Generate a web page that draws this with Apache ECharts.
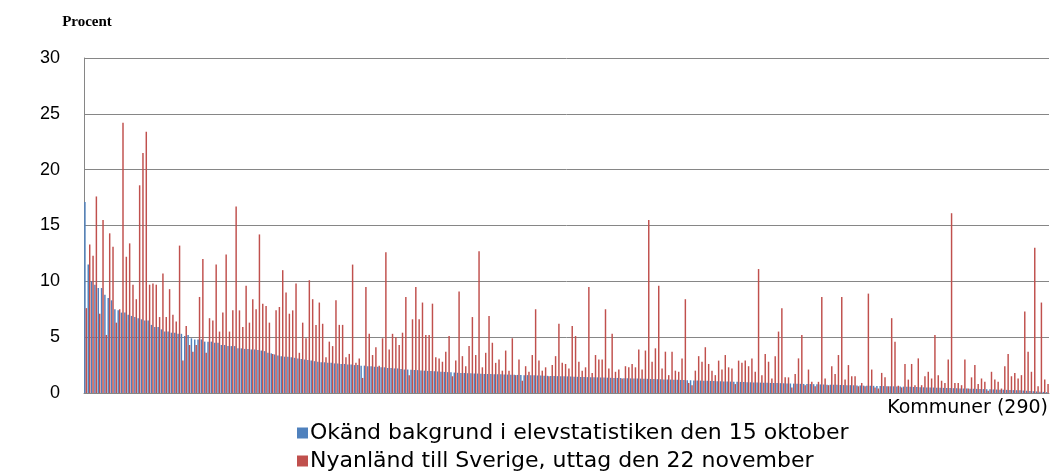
<!DOCTYPE html>
<html>
<head>
<meta charset="utf-8">
<script src="https://cdn.jsdelivr.net/npm/echarts@6/dist/echarts.min.js"></script>
<style>
  html, body { margin: 0; padding: 0; background: #fff; }
  #chart { width: 1052px; height: 475px; }
</style>
</head>
<body>
<div id="chart"></div>
<script>
// Okänd bakgrund (blå), sorterad fallande
const unknownBg = [
  17.1, 11.5, 10.0, 9.7, 9.4, 9.4, 8.8, 8.5, 8.3, 7.5, 7.4, 7.2, 7.2, 7.0, 6.9, 6.8, 6.7, 6.6, 6.5, 6.5, 6.1, 5.9, 5.9, 5.7,
  5.5, 5.5, 5.4, 5.4, 5.3, 5.3, 5.1, 5.2, 4.9, 4.8, 4.8, 4.8, 4.6, 4.6, 4.6, 4.5, 4.5, 4.3, 4.3, 4.2, 4.2, 4.2, 4.0, 4.0,
  3.95, 3.95, 3.9, 3.9, 3.85, 3.8, 3.75, 3.6, 3.55, 3.45, 3.35, 3.3, 3.25, 3.25, 3.2, 3.15, 3.1, 3.05, 3.0, 2.95, 2.9, 2.85, 2.8, 2.75, 2.75,
  2.7, 2.7, 2.65, 2.65, 2.6, 2.6, 2.55, 2.55, 2.5, 2.5, 2.45, 2.45, 2.4, 2.4, 2.35, 2.35, 2.3, 2.3, 2.25, 2.25, 2.2, 2.2, 2.15, 2.1,
  2.1, 2.08, 2.06, 2.05, 2.02, 2.0, 1.98, 1.97, 1.95, 1.93, 1.9, 1.89, 1.87, 1.85, 1.83, 1.81, 1.8, 1.79, 1.77, 1.76, 1.75, 1.74, 1.72, 1.71,
  1.7, 1.7, 1.69, 1.68, 1.67, 1.66, 1.65, 1.64, 1.63, 1.62, 1.61, 1.6, 1.6, 1.59, 1.58, 1.57, 1.56, 1.55, 1.54, 1.53, 1.52, 1.51, 1.5, 1.5, 1.49,
  1.47, 1.46, 1.45, 1.44, 1.43, 1.42, 1.41, 1.4, 1.4, 1.39, 1.38, 1.37, 1.36, 1.35, 1.35, 1.34, 1.33, 1.32, 1.31, 1.3, 1.3, 1.29, 1.28, 1.27,
  1.26, 1.25, 1.24, 1.23, 1.22, 1.21, 1.2, 1.19, 1.18, 1.17, 1.16, 1.15, 1.14, 1.13, 1.12, 1.11, 1.1, 1.09, 1.08, 1.07, 1.06, 1.05, 1.04, 1.03,
  1.02, 1.01, 1.0, 0.99, 0.98, 0.97, 0.96, 0.95, 0.94, 0.93, 0.92, 0.91, 0.9, 0.9, 0.89, 0.88, 0.87, 0.86, 0.85, 0.84, 0.83, 0.82, 0.81, 0.8, 0.8,
  0.79, 0.78, 0.77, 0.76, 0.75, 0.74, 0.74, 0.73, 0.72, 0.71, 0.7, 0.7, 0.69, 0.68, 0.67, 0.66, 0.66, 0.65, 0.64, 0.63, 0.62, 0.62, 0.61, 0.6, 0.6,
  0.59, 0.58, 0.57, 0.56, 0.55, 0.54, 0.53, 0.52, 0.51, 0.5, 0.5, 0.49, 0.48, 0.47, 0.46, 0.45, 0.44, 0.43, 0.42, 0.41, 0.4, 0.4, 0.39, 0.38,
  0.37, 0.36, 0.35, 0.34, 0.33, 0.32, 0.31, 0.3, 0.29, 0.28, 0.27, 0.26, 0.25, 0.24, 0.22, 0.2, 0.18, 0.16, 0.14, 0.12, 0.1, 0.08
];

// Nyanländ till Sverige (röd), samma kommunordning
const newArrivals = [
  7.6, 13.3, 12.3, 17.6, 7.1, 15.5, 5.2, 14.3, 13.1, 6.3, 7.5, 24.2, 12.2, 13.4, 9.7, 8.4, 18.6, 21.5, 23.4, 9.7, 9.8, 9.7, 6.8, 10.7,
  6.8, 9.3, 7.0, 6.4, 13.2, 2.9, 6.0, 4.3, 3.7, 4.3, 8.6, 12.0, 3.6, 6.7, 6.5, 11.5, 5.5, 7.2, 12.4, 5.5, 7.4, 16.7, 7.4, 5.9,
  9.6, 6.3, 8.4, 7.5, 14.2, 8.0, 7.8, 6.3, 3.5, 7.4, 7.7, 11.0, 9.0, 7.1, 7.4, 9.8, 3.6, 6.3, 4.9, 10.1, 8.4, 6.1, 8.1, 6.2, 3.2,
  4.6, 4.2, 8.3, 6.1, 6.1, 3.2, 3.5, 11.5, 2.7, 3.1, 1.35, 9.5, 5.3, 3.4, 4.1, 2.45, 4.9, 12.6, 3.9, 5.3, 5.0, 4.3, 5.4, 8.6,
  1.6, 6.6, 9.5, 6.6, 8.1, 5.2, 5.2, 8.0, 3.2, 3.1, 2.8, 3.7, 5.1, 1.5, 2.9, 9.1, 3.3, 2.4, 4.2, 6.8, 3.4, 12.7, 2.3, 3.6,
  6.9, 4.5, 2.7, 3.0, 2.0, 3.8, 2.0, 4.9, 1.6, 3.0, 1.1, 2.4, 1.9, 3.4, 7.5, 2.9, 2.0, 2.3, 1.5, 2.5, 3.3, 6.2, 2.7, 2.6, 2.2,
  6.0, 5.1, 2.8, 2.0, 2.3, 9.5, 1.8, 3.4, 3.0, 3.0, 7.5, 2.2, 5.3, 1.9, 2.1, 1.3, 2.4, 2.3, 2.6, 2.3, 3.9, 2.1, 3.8, 15.5,
  2.8, 4.0, 9.6, 2.2, 3.7, 1.6, 3.7, 2.0, 1.9, 3.1, 8.4, 0.9, 0.7, 2.0, 3.3, 2.8, 4.1, 2.6, 2.0, 1.6, 2.9, 2.1, 3.4, 2.3,
  2.2, 0.8, 2.9, 2.7, 2.9, 2.4, 3.1, 1.9, 11.1, 1.6, 3.5, 2.8, 1.3, 3.3, 5.5, 7.6, 1.4, 1.4, 0.5, 1.7, 3.1, 5.2, 0.7, 2.1, 1.0,
  0.6, 1.0, 8.6, 1.3, 0.7, 2.4, 1.7, 3.4, 8.6, 1.2, 2.5, 1.5, 1.5, 0.6, 0.9, 0.6, 8.9, 2.1, 0.5, 0.4, 1.8, 1.4, 0.6, 6.7, 4.6,
  0.65, 0.5, 2.6, 1.2, 2.6, 0.7, 3.1, 0.7, 1.5, 1.9, 1.3, 5.2, 1.6, 1.1, 0.9, 3.0, 16.1, 0.9, 0.9, 0.7, 3.0, 0.4, 1.4, 2.5,
  0.8, 1.3, 1.0, 0.2, 1.9, 1.2, 1.0, 0.4, 2.4, 3.5, 1.5, 1.8, 1.3, 1.6, 7.3, 3.7, 1.9, 13.0, 0.6, 8.1, 1.2, 0.8
];

const seriesNames = [
  "Okänd bakgrund i elevstatistiken den 15 oktober",
  "Nyanländ till Sverige, uttag den 22 november"
];
const yTicks = [0, 5, 10, 15, 20, 25, 30];
const kommuner = unknownBg.map((v, i) => "Kommun " + (i + 1));

const chart = echarts.init(document.getElementById("chart"));
const sans = "'Liberation Sans', Arial, sans-serif";
const wide = "'DejaVu Sans', 'Open Sans', sans-serif";

chart.setOption({
  animation: false,
  grid: {
    left: 84,
    right: 3,
    top: 58,
    bottom: 82,
  },
  legend: {
    orient: "vertical",
    left: 297,
    top: 422,
    height: 70,
    padding: 0,
    itemWidth: 11,
    itemHeight: 11,
    itemGap: 6,
    icon: "rect",
    textStyle: {
      fontFamily: wide,
      fontSize: 22,
      color: "#000",
      padding: [0, 0, 0, -3],
    },
    data: seriesNames,
  },
  graphic: [
    {
      type: "text",
      right: 4,
      top: 399,
      style: {
        text: "Kommuner (290)",
        fontFamily: wide,
        fontSize: 19,
        fill: "#000",
      },
    },
  ],
  xAxis: {
    type: "category",
    data: kommuner,
    axisLine: { lineStyle: { color: "#868686", width: 1 } },
    axisTick: { show: false },
    axisLabel: { show: false },
  },
  yAxis: {
    type: "value",
    min: yTicks[0],
    max: yTicks[yTicks.length - 1],
    interval: 5,
    name: "Procent",
    nameGap: 28,
    nameTextStyle: {
      fontFamily: "'Liberation Serif', 'DejaVu Serif', serif",
      fontWeight: "bold",
      fontSize: 15,
      color: "#000",
      padding: [0, 0, 0, 6],
    },
    axisLine: { show: true, lineStyle: { color: "#868686", width: 1 } },
    axisTick: { show: false },
    splitLine: { lineStyle: { color: "#868686", width: 1 } },
    axisLabel: {
      fontFamily: sans,
      fontSize: 18,
      color: "#000",
      margin: 24,
    },
  },
  series: [
    {
      name: seriesNames[0],
      type: "bar",
      data: unknownBg,
      barGap: "0%",
      barCategoryGap: "12%",
      itemStyle: { color: "#4F81BD" },
    },
    {
      name: seriesNames[1],
      type: "bar",
      data: newArrivals,
      itemStyle: { color: "#C0504D" },
    },
  ],
});
</script>
</body>
</html>
